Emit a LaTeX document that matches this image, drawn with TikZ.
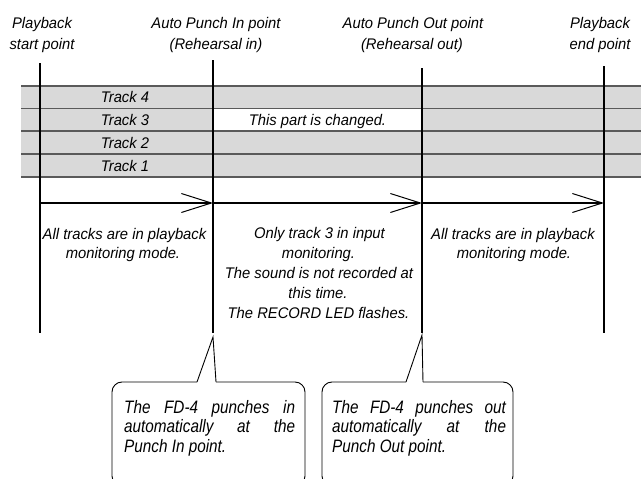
\documentclass[tikz,border=0pt]{standalone}
\usepackage{graphicx}
\usepackage{fontspec}
\setmainfont{Liberation Sans}
\newfontfamily\lblfont[FakeStretch=0.96]{Liberation Sans}
\newfontfamily\callfont{Liberation Sans}
\newcommand{\calsq}[1]{\scalebox{0.85}[1]{#1}}
\usetikzlibrary{arrows.meta}
\definecolor{bandgray}{RGB}{217,217,217}
\definecolor{bandline}{RGB}{90,90,90}
\begin{document}
\begin{tikzpicture}[x=1pt,y=-1pt,
  lbl/.style={font=\lblfont\itshape\fontsize{15.4}{20}\selectfont, inner sep=0pt, anchor=base},
  cl/.style={font=\callfont\itshape\fontsize{18}{19.5}\selectfont, inner sep=0pt, anchor=base west},
  vline/.style={line width=1.1pt, black},
  arr/.style={line width=1.1pt, -{Straight Barb[length=30pt,width=19pt,line width=1pt]}},
  bline/.style={line width=1.5pt, bandline},
  callbox/.style={line width=0.9pt, rounded corners=10pt}]
\useasboundingbox (0,0) rectangle (641,479);
\clip (0,0) rectangle (641,479);
\fill[white] (0,0) rectangle (641,479);

% bands
\fill[bandgray] (21,86) rectangle (641,177);
\fill[white] (213,108.7) rectangle (422,131);
\foreach \yy in {86,108.7,131,154,177}
  \draw[bline] (21,\yy) -- (641,\yy);

% coordinates
\coordinate (v1t) at (40,63);  \coordinate (v1b) at (40,333);
\coordinate (v2t) at (213,60); \coordinate (v2b) at (213,333);
\coordinate (v3t) at (422,68); \coordinate (v3b) at (422,333);
\coordinate (v4t) at (604,66); \coordinate (v4b) at (604,333);
\coordinate (a1) at (40,203);  \coordinate (a2) at (213,203);
\coordinate (a3) at (422,203); \coordinate (a4) at (604,203);

\draw[vline] (v1t) -- (v1b);
\draw[vline] (v2t) -- (v2b);
\draw[vline] (v3t) -- (v3b);
\draw[vline] (v4t) -- (v4b);

\draw[arr] (a1) -- (a2);
\draw[arr] (a2) -- (a3);
\draw[arr] (a3) -- (a4);

% headers
\node[lbl] (h1a) at (42,28.5) {Playback};
\node[lbl] (h1b) at (42,49.5) {start point};
\node[lbl] (h2a) at (216,28.5) {Auto Punch In point};
\node[lbl] (h2b) at (216,49.5) {(Rehearsal in)};
\node[lbl] (h3a) at (413,28.5) {Auto Punch Out point};
\node[lbl] (h3b) at (412,49.5) {(Rehearsal out)};
\node[lbl] (h4a) at (600,28.5) {Playback};
\node[lbl] (h4b) at (600,49.5) {end point};

% tracks
\node[lbl] (t4) at (125,102.5) {Track 4};
\node[lbl] (t3) at (125,125.5) {Track 3};
\node[lbl] (t2) at (125,148) {Track 2};
\node[lbl] (t1) at (125,171) {Track 1};
\node[lbl] (chg) at (317.5,125.5) {This part is changed.};

% region texts
\node[lbl] (l1) at (124.5,239) {All tracks are in playback};
\node[lbl] (l2) at (123,258) {monitoring mode.};
\node[lbl] (m1) at (319.5,238.5) {Only track 3 in input};
\node[lbl] (m2) at (318.5,258) {monitoring.};
\node[lbl] (m3) at (319,278) {The sound is not recorded at};
\node[lbl] (m4) at (318,298) {this time.};
\node[lbl] (m5) at (318.5,318) {The RECORD LED flashes.};
\node[lbl] (r1) at (513,239) {All tracks are in playback};
\node[lbl] (r2) at (514,258) {monitoring mode.};

% callouts
\coordinate (p1) at (213,337);
\coordinate (p2) at (422,335);
\draw[callbox] (197,382) -- (112,382) -- (112,486) -- (305,486) -- (305,382) -- (216,382);
\draw[line width=0.9pt, line join=miter] (197,382) -- (p1) -- (216,382);
\draw[callbox] (406,382) -- (322,382) -- (322,486) -- (513,486) -- (513,382) -- (423,382);
\draw[line width=0.9pt, line join=miter] (406,382) -- (p2) -- (423,382);

\node[cl] (c1a) at (124,413) {\calsq{\makebox[201pt][s]{The FD-4 punches in}}};
\node[cl] (c1b) at (124,432.5) {\calsq{\makebox[201pt][s]{automatically at the}}};
\node[cl] (c1c) at (124,452) {\calsq{Punch In point.}};
\node[cl] (c2a) at (332,413) {\calsq{\makebox[204.5pt][s]{The FD-4 punches out}}};
\node[cl] (c2b) at (332,432.5) {\calsq{\makebox[204.5pt][s]{automatically at the}}};
\node[cl] (c2c) at (332,452) {\calsq{Punch Out point.}};
\end{tikzpicture}
\end{document}
